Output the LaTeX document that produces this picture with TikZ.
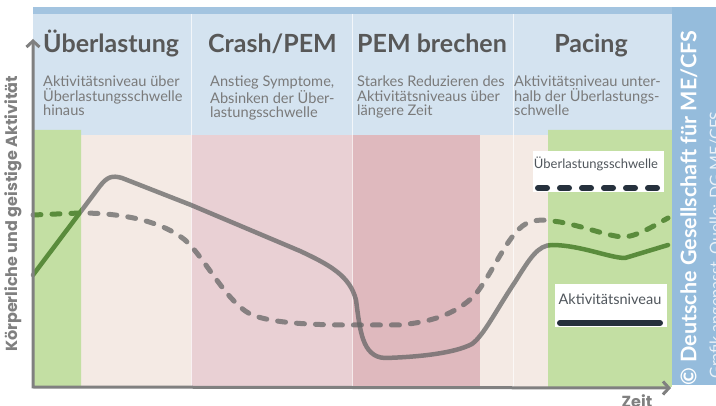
\documentclass[tikz,border=0pt]{standalone}
\usepackage{fontspec}
\setmainfont{Lato}
\newfontfamily\popfont{Poppins}
\usetikzlibrary{arrows.meta}
\definecolor{hdrblue}{HTML}{D4E3F0}
\definecolor{topblue}{HTML}{A3C4E0}
\definecolor{sideblue}{HTML}{95BCDC}
\definecolor{bggreen}{HTML}{C3DFA3}
\definecolor{bgbeige}{HTML}{F4EAE4}
\definecolor{bgpink}{HTML}{E9D0D4}
\definecolor{bgrose}{HTML}{DFB9BE}
\definecolor{titlegray}{HTML}{585858}
\definecolor{subgray}{HTML}{7A7A7A}
\definecolor{axisgray}{HTML}{808080}
\definecolor{curvegray}{HTML}{666666}
\definecolor{curvegreen}{HTML}{5A8C3C}
\definecolor{navy}{HTML}{26313D}
\definecolor{legtext}{HTML}{50565C}
\begin{document}
\begin{tikzpicture}[x=1pt,y=-1pt,
  title/.style={font=\fontsize{25}{30}\selectfont\bfseries, text=titlegray, inner sep=0pt, anchor=base west},
  sub/.style={font=\fontsize{14.6}{14.6}\selectfont, text=subgray, inner sep=0pt, anchor=north west, align=left},
  legbox/.style={fill=white, draw=none, inner sep=0pt, anchor=north west},
  legtxt/.style={font=\fontsize{13}{15}\selectfont, text=legtext, inner sep=0pt},
  act/.style={line width=4.5pt, line cap=round, line join=round},
  thr/.style={line width=5pt, line cap=round, dash pattern=on 8pt off 11pt},
  actcurve/.style={insert path={(33,275) -- (100,186) .. controls (107,177) and (112,175) .. (122,178)
     -- (191,205) -- (300,251) .. controls (330,265) and (350,276) .. (356,300)
     .. controls (360,330) and (362,357) .. (385,358)
     .. controls (420,357) and (455,353) .. (472,344)
     .. controls (484,335) and (495,312) .. (515,282)
     .. controls (530,258) and (538,245) .. (552,245)
     .. controls (580,245) and (610,258) .. (625,258) -- (668,245)}},
  thrcurve/.style={insert path={(33,215) -- (80,213) .. controls (120,213) and (160,220) .. (185,240)
     .. controls (205,258) and (225,300) .. (250,314)
     .. controls (270,323) and (310,325) .. (352,325) -- (400,325)
     .. controls (430,322) and (455,315) .. (475,295)
     .. controls (495,270) and (510,228) .. (530,222)
     .. controls (540,219) and (545,220) .. (560,222)
     .. controls (590,228) and (610,237) .. (625,237)
     .. controls (640,235) and (655,225) .. (668,218)}},
  ]
\useasboundingbox (0,0) rectangle (716,406);
\fill[white] (0,0) rectangle (716,406);
% background bands
\fill[bggreen] (33,135) rectangle (81,387);
\fill[bgbeige] (81,135) rectangle (191,387);
\fill[bgpink] (191,135) rectangle (352,387);
\fill[bgrose] (352,135) rectangle (480,387);
\fill[bgbeige] (480,135) rectangle (548,387);
\fill[bggreen] (548,135) rectangle (672,387);
\fill[hdrblue] (33,14) rectangle (672,135);
\fill[topblue] (33,7) rectangle (716,14);
\fill[sideblue] (672,7) rectangle (716,385);
\foreach \x in {191,352,513} \draw[white, line width=1pt, opacity=0.7] (\x,14) -- (\x,387);
% titles
\node[title] (t1) at (43,53) {Überlastung};
\node[title] (t2) at (208,53) {Crash/PEM};
\node[title] (t3) at (357,53) {PEM brechen};
\node[title, anchor=base] (t4) at (591,53) {Pacing};
\node[sub] (s1) at (43,75.5) {Aktivitätsniveau über\\Überlastungsschwelle\\hinaus};
\node[sub] (s2) at (210,75.5) {Anstieg Symptome,\\Absinken der Über-\\lastungsschwelle};
\node[sub] (s3) at (357,75.5) {Starkes Reduzieren des\\Aktivitätsniveaus über\\längere Zeit};
\node[sub] (s4) at (514,75.5) {Aktivitätsniveau unter-\\halb der Überlastungs-\\schwelle};
% curves
\draw[thr, curvegray, draw opacity=0.75, thrcurve];
\draw[act, curvegray, draw opacity=0.75, actcurve];
\begin{scope}
  \clip (33,130) rectangle (81,390) (548,130) rectangle (672,390);
  \fill[bggreen] (33,130) rectangle (81,387) (548,130) rectangle (672,387);
  \draw[thr, curvegreen, thrcurve];
  \draw[act, curvegreen, actcurve];
\end{scope}
% legend
\node[legbox, minimum width=131pt, minimum height=41pt] (leg1) at (533,151) {};
\node[legtxt] (leg1t) at (596,164) {Überlastungsschwelle};
\coordinate (l1a) at (538,188);
\coordinate (l1b) at (657,188);
\draw[navy, line width=6pt, line cap=round, dash pattern=on 9pt off 13pt] (l1a) -- (l1b);
\node[legbox, minimum width=112pt, minimum height=43pt] (leg2) at (555,284) {};
\node[legtxt, font=\fontsize{14.5}{16}\selectfont] (leg2t) at (610,299) {Aktivitätsniveau};
\coordinate (l2a) at (560,323);
\coordinate (l2b) at (660,323);
\draw[navy, line width=6pt, line cap=round] (l2a) -- (l2b);
% axes
\coordinate (ytop) at (33,39);
\coordinate (O) at (33,387);
\coordinate (xend) at (671,388);
\draw[axisgray, line width=3pt, line join=miter, {Straight Barb[length=6pt,width=13pt]}-{Straight Barb[length=6pt,width=13pt]}] (ytop) -- (O) -- (xend);
\node[rotate=90, font=\popfont\bfseries\fontsize{16}{20}\selectfont, text=axisgray] (ylab) at (13,214) {Körperliche und geistige Aktivität};
\node[font=\popfont\bfseries\fontsize{16}{18}\selectfont, text=axisgray] (zeit) at (637,401) {Zeit};
% side band text
\node[rotate=90, font=\fontsize{21.5}{26}\selectfont\bfseries, text=white] (copy) at (689,208) {© Deutsche Gesellschaft für ME/CFS};
\node[rotate=90, font=\fontsize{16}{18}\selectfont, text=white!80!sideblue] (src) at (717,245) {Grafik angepasst, Quelle: DG ME/CFS};
\end{tikzpicture}
\end{document}
